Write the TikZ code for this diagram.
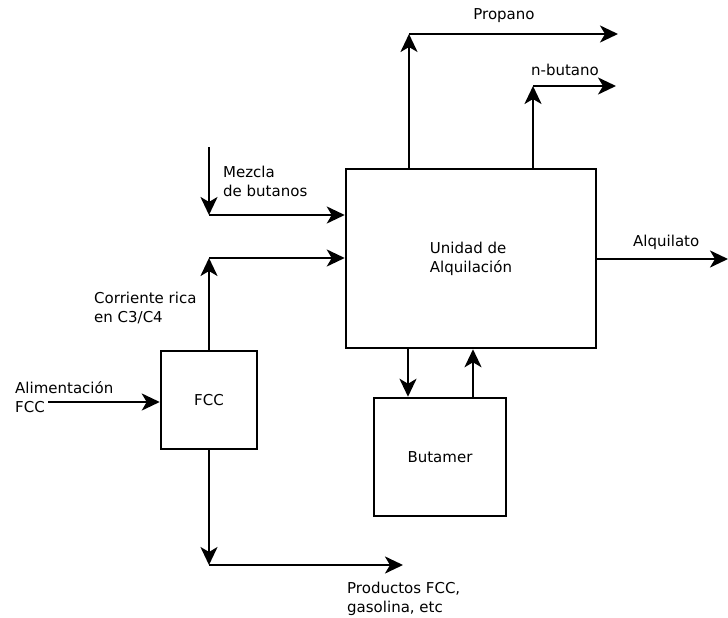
\documentclass[tikz,border=0pt]{standalone}
\usepackage{fontspec}
\setmainfont{DejaVu Sans}
\usetikzlibrary{arrows.meta}
\begin{document}
\begin{tikzpicture}[x=1pt,y=-1pt,
  flow/.style={line width=2.5pt,-{Stealth[length=18pt,width=17pt,inset=5pt]}},
  unit/.style={draw,line width=2.5pt,rectangle,inner sep=0pt,font=\fontsize{15}{19}\selectfont},
  lbl/.style={inner sep=0pt,align=left,font=\fontsize{15}{19}\selectfont}]
\useasboundingbox (0,0) rectangle (728,618);
% units
\node[unit,minimum width=250pt,minimum height=179pt,align=left] (alq) at (471,258.5) {Unidad de\\Alquilación};
\node[unit,minimum width=132pt,minimum height=118pt] (but) at (440,457) {Butamer};
\node[unit,minimum width=96pt,minimum height=98pt] (fcc) at (209,400) {FCC};
% coordinates
\coordinate (propc) at (409,34);
\coordinate (prope) at (618,34);
\coordinate (nbc) at (533,86);
\coordinate (nbe) at (616,86);
\coordinate (alqe) at (728,259);
\coordinate (mzs) at (209,147);
\coordinate (mzc) at (209,215);
\coordinate (crc) at (209,258);
\coordinate (ali) at (48,402);
\coordinate (pfc) at (209,565);
\coordinate (pfe) at (403,565);
% flows
\draw[flow] (alq.north -| propc) -- (propc);
\draw[flow] (propc) -- (prope);
\draw[flow] (alq.north -| nbc) -- (nbc);
\draw[flow] (nbc) -- (nbe);
\draw[flow] (alq.east |- alqe) -- (alqe);
\draw[flow] (mzs) -- (mzc);
\draw[flow] (mzc) -- (alq.west |- mzc);
\draw[flow] (fcc.north) -- (crc);
\draw[flow] (crc) -- (alq.west |- crc);
\draw[flow] (ali) -- (fcc.west |- ali);
\draw[flow] (fcc.south) -- (pfc);
\draw[flow] (pfc) -- (pfe);
\draw[flow] (alq.south -| 408,0) -- (but.north -| 408,0);
\draw[flow] (but.north -| 473,0) -- (alq.south -| 473,0);
% labels
\node[lbl] (lprop) at (504,16) {Propano};
\node[lbl] (lnb) at (565,70) {n-butano};
\node[lbl,anchor=west] (lalq) at (633,242) {Alquilato};
\node[lbl,anchor=west] (lmz) at (223,181) {Mezcla\\de butanos};
\node[lbl,anchor=west] (lcr) at (94,308) {Corriente rica\\en C3/C4};
\node[lbl,anchor=west] (lali) at (15,397) {Alimentación\\FCC};
\node[lbl,anchor=west] (lpf) at (347,599) {Productos FCC,\\gasolina, etc};
\end{tikzpicture}
\end{document}
